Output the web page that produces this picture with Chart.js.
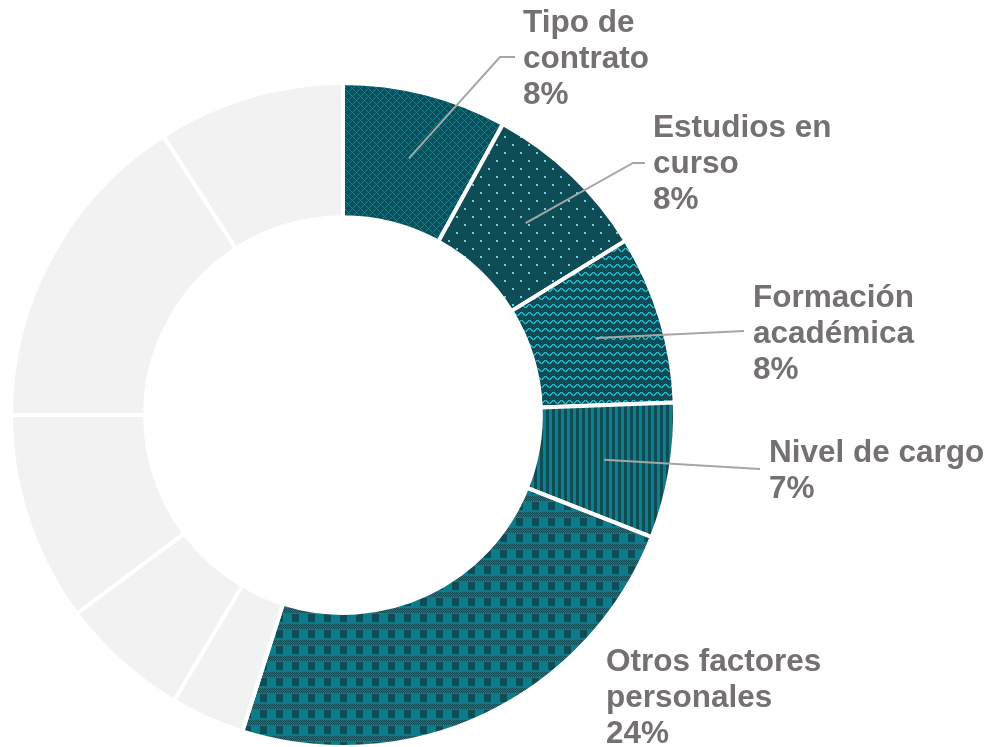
<!DOCTYPE html>
<html>
<head>
<meta charset="utf-8">
<script src="https://cdn.jsdelivr.net/npm/chart.js@4/dist/chart.umd.min.js"></script>
<style>
  html, body { margin: 0; padding: 0; background: #ffffff; }
  #wrap { width: 989px; height: 747px; position: relative; }
</style>
</head>
<body>
<div id="wrap"><canvas id="c" width="989" height="747"></canvas></div>
<script>
// ---- data ----
const categories = [
  'Tipo de contrato', 'Estudios en curso', 'Formación académica', 'Nivel de cargo',
  'Otros factores personales', '', '', '', '', ''
];
const values = [8.0, 8.2, 8.2, 6.6, 23.9, 3.6, 6.3, 10.2, 15.9, 9.1];
const percentLabels = ['8%', '8%', '8%', '7%', '24%'];

// ---- styles / layout ----
const DARK = '#0f4d56';
const TEAL = '#0e7b8a';
const GREY = '#f2f2f2';
const TEXT = '#767171';
const LEADER = '#a6a6a6';

function tile(w, h, bg, fg, fn) {
  const c = document.createElement('canvas');
  c.width = w; c.height = h;
  const g = c.getContext('2d');
  g.fillStyle = bg; g.fillRect(0, 0, w, h);
  g.fillStyle = fg;
  for (let y = 0; y < h; y++) for (let x = 0; x < w; x++) if (fn(x, y)) g.fillRect(x, y, 1, 1);
  return g.createPattern(c, 'repeat');
}
const waveY = [0, 0, 1, 2, 3, 3, 2, 1];
function onWave(x, y) {
  const a = waveY[x], b = waveY[(x + 7) % 8];
  return y >= Math.min(a, b) && y <= Math.max(a, b) || y === a;
}
const patterns = [
  tile(8, 8, DARK, '#0f808f', (x, y) => (x + y) % 8 === 0 || (x - y + 8) % 8 === 0),
  tile(16, 16, DARK, '#66d3e3', (x, y) => (x < 2 && y < 2) || (x >= 8 && x < 10 && y >= 8 && y < 10)),
  tile(8, 8, DARK, '#22b2c6', onWave),
  tile(6, 1, DARK, '#0e7d8c', (x, y) => x >= 3),
  tile(16, 16, TEAL, DARK, (x, y) => (y < 5 && (x + y) % 2 === 0) || (y >= 6 && y < 14 && x >= 4 && x < 11))
];
const colors = values.map((v, i) => i < patterns.length ? patterns[i] : GREY);

const labelLayout = [
  { x: 523, y: 32, words: [2, 1], leader: [[500, 57], [515, 57]] },
  { x: 653, y: 137, words: [2, 1], leader: [[633, 163], [645, 163]] },
  { x: 753, y: 307, words: [1, 1], leader: [[744, 331]] },
  { x: 769, y: 462, words: [3], leader: [[760, 469]] },
  { x: 606, y: 671, words: [2, 1], leader: null }
];
const FONT = 'bold 31.5px "Liberation Sans", Arial, sans-serif';
const LINE_H = 36;

const labelPlugin = {
  id: 'sliceLabels',
  afterDatasetsDraw(chart) {
    const ctx = chart.ctx;
    const meta = chart.getDatasetMeta(0);
    ctx.save();
    labelLayout.forEach((L, i) => {
      const arc = meta.data[i];
      if (L.leader) {
        const p = arc.getCenterPoint();
        ctx.beginPath();
        ctx.moveTo(p.x, p.y);
        L.leader.forEach(q => ctx.lineTo(q[0], q[1]));
        ctx.strokeStyle = LEADER;
        ctx.lineWidth = 2;
        ctx.stroke();
      }
      const words = categories[i].split(' ');
      const lines = [];
      let k = 0;
      L.words.forEach(n => { lines.push(words.slice(k, k + n).join(' ')); k += n; });
      lines.push(percentLabels[i]);
      ctx.font = FONT;
      ctx.fillStyle = TEXT;
      ctx.textAlign = 'left';
      ctx.textBaseline = 'alphabetic';
      lines.forEach((t, j) => ctx.fillText(t, L.x, L.y + j * LINE_H));
    });
    ctx.restore();
  }
};

new Chart(document.getElementById('c'), {
  type: 'doughnut',
  data: {
    labels: categories,
    datasets: [{
      data: values,
      backgroundColor: colors,
      borderColor: '#ffffff',
      borderWidth: 4,
      hoverOffset: 0
    }]
  },
  options: {
    responsive: false,
    animation: false,
    devicePixelRatio: 1,
    radius: 332,
    cutout: '59.6%',
    layout: { padding: { left: 13, right: 316, top: 85, bottom: 2 } },
    plugins: { legend: { display: false }, tooltip: { enabled: false } },
    events: []
  },
  plugins: [labelPlugin]
});
</script>
</body>
</html>
